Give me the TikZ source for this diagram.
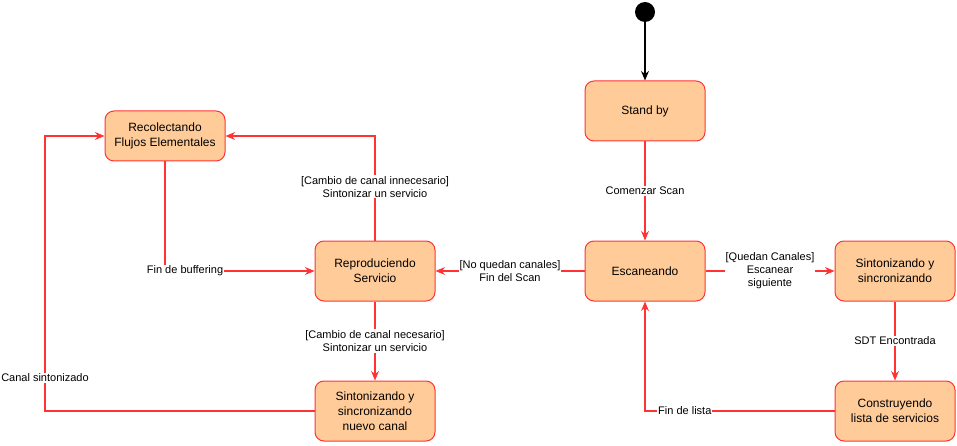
\documentclass[tikz,border=0pt]{standalone}
\usepackage{fontspec}
\setmainfont{Liberation Sans}
\usetikzlibrary{arrows.meta,positioning}
\definecolor{estadofill}{HTML}{FFCC99}
\definecolor{estadoborde}{HTML}{FF3333}

\begin{document}
\begin{tikzpicture}[x=1pt,y=-1pt,
    estado/.style={draw=estadoborde,fill=estadofill,rounded corners=9pt,line width=1pt,
        minimum width=120pt,minimum height=60pt,inner sep=0pt,align=center,
        font=\fontsize{12}{15}\selectfont},
    trans/.style={color=estadoborde,line width=1.1pt,-{Stealth[scale=1.2,angle'=45]}},
    etiqueta/.style={fill=white,text=black,align=center,inner sep=1pt,font=\fontsize{11}{13}\selectfont}]

        %marco
        \useasboundingbox (0,0) rectangle (957,446);

        \node[circle,fill=black,minimum size=20pt,inner sep=0pt] (inicio) at (645,12) {};
        \node[estado] (standby) at (645,111) {Stand by};
        \node[estado] (escan) at (645,271) {Escaneando};
        \node[estado] (sinto) at (895,271) {Sintonizando y\\sincronizando};
        \node[estado] (constr) at (895,411) {Construyendo\\lista de servicios};
        \node[estado] (repro) at (375,271) {Reproduciendo\\Servicio};
        \node[estado,minimum height=50pt] (recol) at (165,136) {Recolectando\\Flujos Elementales};
        \node[estado] (nuevo) at (375,411) {Sintonizando y\\sincronizando\\nuevo canal};
        \coordinate (esquina) at (45,136);

        \draw[line width=1.1pt,-{Stealth[scale=1.2,angle'=45]}] (inicio) -- (standby);
        \draw[trans] (standby) -- node[etiqueta] {Comenzar Scan} (escan);
        \draw[trans] (escan) -- node[etiqueta] {[No quedan canales]\\Fin del Scan} (repro);
        \draw[trans] (escan) -- node[etiqueta] {[Quedan Canales]\\Escanear\\siguiente} (sinto);
        \draw[trans] (sinto) -- node[etiqueta] {SDT Encontrada} (constr);
        \draw[trans] (constr.west) -| node[etiqueta,pos=0.395] {Fin de lista} (escan.south);
        \draw[trans] (repro.north) |- node[etiqueta,pos=0.257] {[Cambio de canal innecesario]\\Sintonizar un servicio} (recol.east);
        \draw[trans] (recol.south) |- node[etiqueta,pos=0.567] {Fin de buffering} (repro.west);
        \draw[trans] (repro) -- node[etiqueta] {[Cambio de canal necesario]\\Sintonizar un servicio} (nuevo);
        \draw[trans] (nuevo.west) -| node[etiqueta,pos=0.56] {Canal sintonizado} (esquina) -- (recol.west);

\end{tikzpicture}
\end{document}
